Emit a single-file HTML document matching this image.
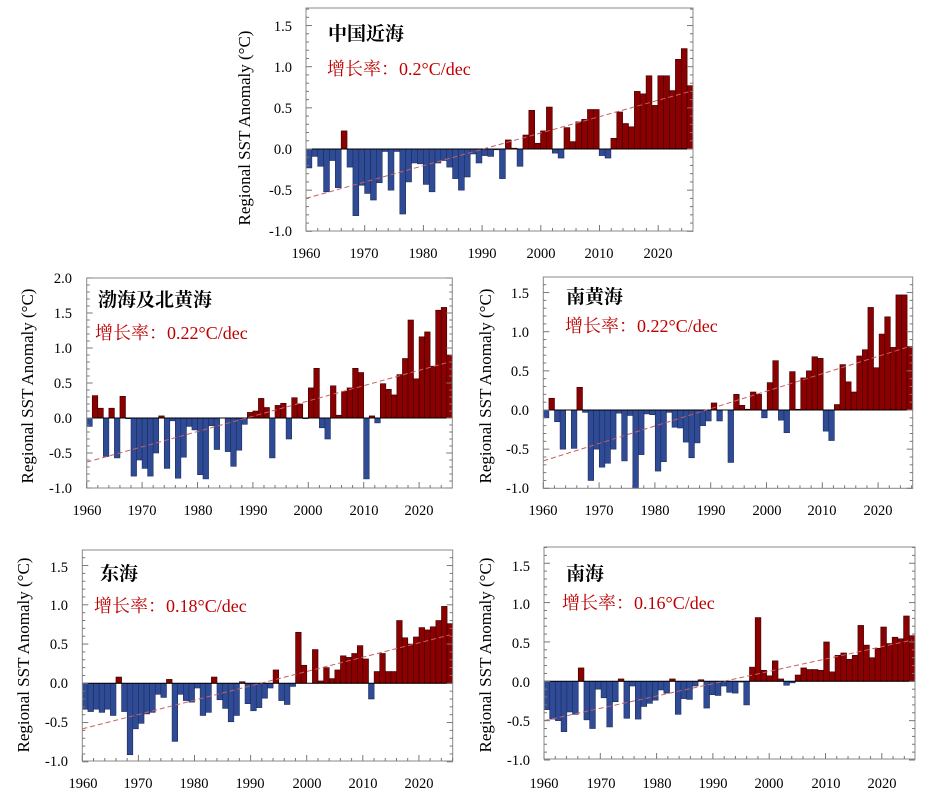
<!DOCTYPE html>
<html><head><meta charset="utf-8">
<style>
body{margin:0;background:#fff;}
svg{display:block;}
text{font-family:"Liberation Serif","Noto Serif CJK SC",serif;}
.t{font-size:14.5px;fill:#000;}
.ti{font-size:19px;fill:#000;font-family:"Liberation Serif","Noto Serif CJK SC",serif;font-weight:bold;}
.r{font-size:18px;fill:#c00000;font-family:"Liberation Serif","Noto Serif CJK SC",serif;}
.ax{font-size:17px;fill:#000;}
</style></head>
<body>
<svg id="s" width="932" height="808" viewBox="0 0 932 808" xmlns="http://www.w3.org/2000/svg">
<rect width="932" height="808" fill="#fff"/>
<g id="g"></g>
<!-- Chart 1 -->
<g class="t" text-anchor="end">
<text x="292" y="31">1.5</text><text x="292" y="72">1.0</text><text x="292" y="113">0.5</text><text x="292" y="154">0.0</text><text x="292" y="195">-0.5</text><text x="292" y="236">-1.0</text>
</g>
<g class="t" text-anchor="middle">
<text x="306" y="258">1960</text><text x="364" y="258">1970</text><text x="423" y="258">1980</text><text x="482" y="258">1990</text><text x="541" y="258">2000</text><text x="599" y="258">2010</text><text x="658" y="258">2020</text>
</g>
<text class="ax" transform="translate(250,128) rotate(-90)" text-anchor="middle">Regional SST Anomaly (°C)</text>
<text class="ti" x="328" y="40">中国近海</text>
<text class="r" x="327" y="75">增长率：0.2°C/dec</text>
<!-- Chart 2 -->
<g class="t" text-anchor="end">
<text x="72" y="283">2.0</text><text x="72" y="318">1.5</text><text x="72" y="353">1.0</text><text x="72" y="388">0.5</text><text x="72" y="423">0.0</text><text x="72" y="458">-0.5</text><text x="72" y="493">-1.0</text>
</g>
<g class="t" text-anchor="middle">
<text x="87" y="515">1960</text><text x="142" y="515">1970</text><text x="198" y="515">1980</text><text x="253" y="515">1990</text><text x="308" y="515">2000</text><text x="364" y="515">2010</text><text x="419" y="515">2020</text>
</g>
<text class="ax" transform="translate(33,386) rotate(-90)" text-anchor="middle">Regional SST Anomaly (°C)</text>
<text class="ti" x="98" y="306">渤海及北黄海</text>
<text class="r" x="95" y="339">增长率：0.22°C/dec</text>
<!-- Chart 3 -->
<g class="t" text-anchor="end">
<text x="529" y="298">1.5</text><text x="529" y="337">1.0</text><text x="529" y="376">0.5</text><text x="529" y="415">0.0</text><text x="529" y="454">-0.5</text><text x="529" y="493">-1.0</text>
</g>
<g class="t" text-anchor="middle">
<text x="543" y="515">1960</text><text x="599" y="515">1970</text><text x="655" y="515">1980</text><text x="711" y="515">1990</text><text x="767" y="515">2000</text><text x="822" y="515">2010</text><text x="878" y="515">2020</text>
</g>
<text class="ax" transform="translate(491,386) rotate(-90)" text-anchor="middle">Regional SST Anomaly (°C)</text>
<text class="ti" x="566" y="303">南黄海</text>
<text class="r" x="565" y="332">增长率：0.22°C/dec</text>
<!-- Chart 4 -->
<g class="t" text-anchor="end">
<text x="68" y="572">1.5</text><text x="68" y="610">1.0</text><text x="68" y="649">0.5</text><text x="68" y="688">0.0</text><text x="68" y="727">-0.5</text><text x="68" y="766">-1.0</text>
</g>
<g class="t" text-anchor="middle">
<text x="83" y="788">1960</text><text x="138" y="788">1970</text><text x="194" y="788">1980</text><text x="250" y="788">1990</text><text x="307" y="788">2000</text><text x="363" y="788">2010</text><text x="419" y="788">2020</text>
</g>
<text class="ax" transform="translate(29,655) rotate(-90)" text-anchor="middle">Regional SST Anomaly (°C)</text>
<text class="ti" x="100" y="580">东海</text>
<text class="r" x="94" y="612">增长率：0.18°C/dec</text>
<!-- Chart 5 -->
<g class="t" text-anchor="end">
<text x="530" y="571">1.5</text><text x="530" y="609">1.0</text><text x="530" y="648">0.5</text><text x="530" y="687">0.0</text><text x="530" y="726">-0.5</text><text x="530" y="765">-1.0</text>
</g>
<g class="t" text-anchor="middle">
<text x="544" y="788">1960</text><text x="601" y="788">1970</text><text x="657" y="788">1980</text><text x="713" y="788">1990</text><text x="769" y="788">2000</text><text x="826" y="788">2010</text><text x="882" y="788">2020</text>
</g>
<text class="ax" transform="translate(491,655) rotate(-90)" text-anchor="middle">Regional SST Anomaly (°C)</text>
<text class="ti" x="566" y="580">南海</text>
<text class="r" x="562" y="609">增长率：0.16°C/dec</text>
</svg>
<script>
var charts=[
{L:306,R:693,T:8,B:231,z:149,u:82.3,ymin:-1,ymax:1.72,a:-0.6,b:0.02,yrw:5.87,
v:[-0.23,-0.09,-0.21,-0.52,-0.14,-0.47,0.22,-0.22,-0.81,-0.44,-0.54,-0.62,-0.41,-0.03,-0.50,-0.03,-0.79,-0.40,-0.17,-0.18,-0.43,-0.52,-0.17,-0.14,-0.22,-0.36,-0.50,-0.34,-0.06,-0.17,-0.08,-0.09,-0.01,-0.36,0.11,0.01,-0.21,0.17,0.47,0.07,0.22,0.51,-0.05,-0.11,0.26,0.09,0.33,0.36,0.48,0.48,-0.08,-0.11,0.13,0.45,0.31,0.27,0.70,0.67,0.89,0.53,0.89,0.89,0.71,1.09,1.22,0.77]},
{L:86.7,R:452.3,T:278,B:488,z:418,u:70,ymin:-1,ymax:2,a:-0.63,b:0.022,yrw:5.54,
v:[-0.12,0.32,0.14,-0.55,0.14,-0.57,0.31,-0.01,-0.83,-0.60,-0.72,-0.83,-0.50,0.03,-0.72,-0.04,-0.86,-0.56,-0.12,-0.17,-0.81,-0.87,-0.11,-0.45,0,-0.48,-0.69,-0.46,-0.09,0.08,0.10,0.28,0.15,-0.57,0.18,0.21,-0.30,0.29,0.20,-0.01,0.43,0.71,-0.14,-0.30,0.46,0.04,0.38,0.43,0.71,0.65,-0.87,0.03,-0.07,0.49,0.41,0.33,0.62,0.85,1.40,0.56,1.16,1.23,0.74,1.54,1.58,0.90]},
{L:543.3,R:912.7,T:277,B:488.3,z:410,u:78.3,ymin:-1,ymax:1.69,a:-0.65,b:0.0225,yrw:5.58,
v:[-0.10,0.15,-0.15,-0.50,0,-0.49,0.29,-0.03,-0.90,-0.50,-0.73,-0.68,-0.50,-0.04,-0.65,-0.07,-1.0,-0.57,-0.05,-0.06,-0.78,-0.66,-0.03,-0.22,-0.23,-0.41,-0.61,-0.42,-0.20,-0.14,0.09,-0.14,0,-0.67,0.20,0.06,0.01,0.23,0.20,-0.10,0.35,0.63,-0.13,-0.29,0.49,0.01,0.41,0.50,0.68,0.66,-0.27,-0.39,0.07,0.58,0.36,0.23,0.69,0.77,1.31,0.54,0.97,1.19,0.80,1.47,1.47,0.81]},
{L:82.3,R:452.7,T:550,B:761,z:683.3,u:78.5,ymin:-1,ymax:1.69,a:-0.58,b:0.0184,yrw:5.61,
v:[-0.33,-0.36,-0.33,-0.37,-0.33,-0.41,0.08,-0.36,-0.91,-0.58,-0.51,-0.39,-0.37,-0.14,-0.18,0.05,-0.74,-0.14,-0.22,-0.24,-0.06,-0.41,-0.37,0.08,-0.21,-0.32,-0.49,-0.41,0.02,-0.26,-0.35,-0.31,-0.19,-0.06,0.17,-0.22,-0.27,-0.04,0.65,0.23,0,0.43,0.03,0.20,0.06,0.17,0.35,0.33,0.38,0.48,0.31,-0.20,0.15,0.38,0.15,0.15,0.80,0.58,0.50,0.59,0.71,0.68,0.72,0.80,0.98,0.76]},
{L:544,R:915,T:547,B:759,z:681.3,u:78.7,ymin:-1,ymax:1.70,a:-0.5,b:0.016,yrw:5.63,
v:[-0.36,-0.48,-0.50,-0.64,-0.39,-0.42,0.17,-0.49,-0.60,-0.10,-0.21,-0.58,-0.26,0.03,-0.47,-0.06,-0.48,-0.32,-0.28,-0.24,-0.11,-0.15,0.03,-0.42,-0.22,-0.23,-0.06,0.02,-0.34,-0.17,-0.18,-0.06,-0.14,-0.15,-0.01,-0.30,0.18,0.81,0.14,0.07,0.26,0.03,-0.05,-0.02,0.08,0.17,0.15,0.15,0.14,0.50,0.12,0.33,0.36,0.28,0.33,0.71,0.46,0.30,0.42,0.69,0.48,0.56,0.54,0.83,0.58]}
];
var ns="http://www.w3.org/2000/svg",g=document.getElementById("g");
function el(n,a){var e=document.createElementNS(ns,n);for(var k in a)e.setAttribute(k,a[k]);g.appendChild(e);return e;}
charts.forEach(function(c){
  var w=(c.R-c.L)/c.v.length;
  c.v.forEach(function(v,i){
    if(Math.abs(v)<0.005)return;
    var x=c.L+i*w,y=c.z-v*c.u,h=Math.abs(v*c.u);
    el("rect",{x:x.toFixed(2),y:Math.min(y,c.z).toFixed(2),width:w.toFixed(2),height:h.toFixed(2),fill:v>0?"#8b0000":"#2f4b96",stroke:v>0?"#3a0000":"#1c2c5c","stroke-width":"0.6"});
  });
  el("line",{x1:c.L,y1:c.z,x2:c.R,y2:c.z,stroke:"#000","stroke-width":"1"});
  var x1=c.L,x2=c.R-w/2,y1=c.z-c.a*c.u,y2=c.z-(c.a+c.b*(c.v.length-1))*c.u;
  el("line",{x1:x1,y1:y1,x2:x2,y2:y2,stroke:"#c86060","stroke-width":"1","stroke-dasharray":"5,3"});
  el("rect",{x:c.L,y:c.T,width:c.R-c.L,height:c.B-c.T,fill:"none",stroke:"#888","stroke-width":"1"});
  for(var t=-10;t<=Math.floor(c.ymax*10);t++){
    var y=c.z-t/10*c.u,len=(t%5==0)?6:3;
    el("line",{x1:c.L,y1:y,x2:c.L+len,y2:y,stroke:"#777","stroke-width":"1"});
    el("line",{x1:c.R,y1:y,x2:c.R-len,y2:y,stroke:"#777","stroke-width":"1"});
  }
  for(var yr=0;yr<=c.v.length;yr+=2){
    var x=c.L+yr*c.yrw;if(x>c.R)break;var len=(yr%10==0)?6:3;
    el("line",{x1:x,y1:c.B,x2:x,y2:c.B-len,stroke:"#777","stroke-width":"1"});
  }
});
</script>
</body></html>
